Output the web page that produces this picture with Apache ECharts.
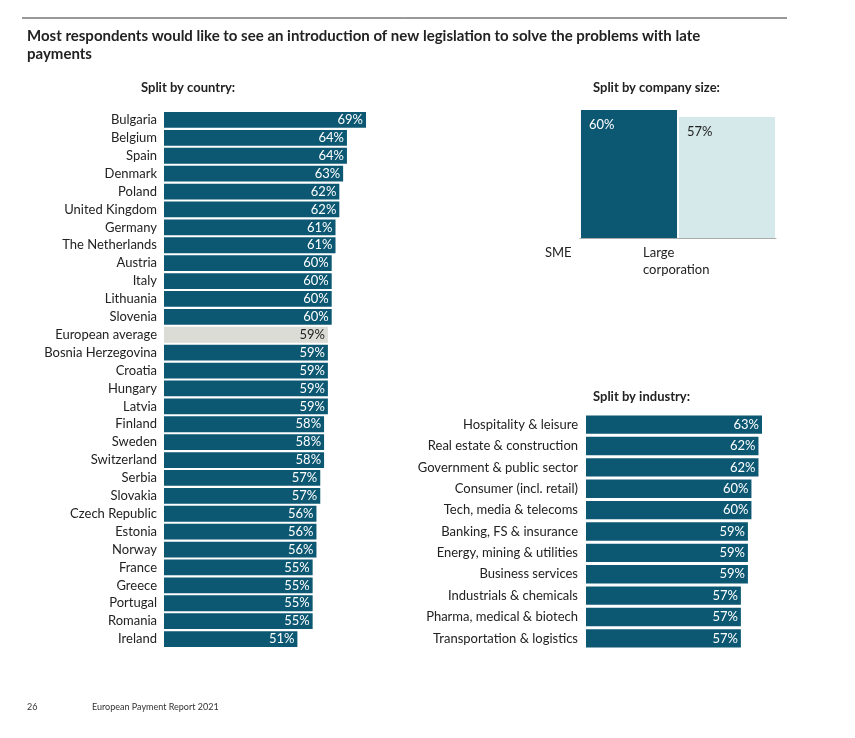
<!DOCTYPE html>
<html><head><meta charset="utf-8">
<script src="https://cdn.jsdelivr.net/npm/echarts@6/dist/echarts.min.js"></script>
<style>body{margin:0;background:#fff}#c{width:855px;height:738px}</style>
</head><body><div id="c"></div>
<script>
var countries = ["Bulgaria","Belgium","Spain","Denmark","Poland","United Kingdom","Germany","The Netherlands","Austria","Italy","Lithuania","Slovenia","European average","Bosnia Herzegovina","Croatia","Hungary","Latvia","Finland","Sweden","Switzerland","Serbia","Slovakia","Czech Republic","Estonia","Norway","France","Greece","Portugal","Romania","Ireland"];
var countryValues = [69,64,64,63,62,62,61,61,60,60,60,60,59,59,59,59,59,58,58,58,57,57,56,56,56,55,55,55,55,51];
var sizes = ["SME","Large\ncorporation"];
var sizeValues = [60,57];
var industries = ["Hospitality & leisure","Real estate & construction","Government & public sector","Consumer (incl. retail)","Tech, media & telecoms","Banking, FS & insurance","Energy, mining & utilities","Business services","Industrials & chemicals","Pharma, medical & biotech","Transportation & logistics"];
var industryValues = [63,62,62,60,60,59,59,59,57,57,57];

var dark = '#0c5873';
var font = 'Lato';
var chart = echarts.init(document.getElementById('c'));

function hbarLabel(){
  return {show:true, position:'insideRight', distance:3, color:'#fff', fontSize:13, fontFamily:font, formatter:'{c}%'};
}

chart.setOption({
  animation:false,
  textStyle:{fontFamily:font},
  title:[
    {text:'Most respondents would like to see an introduction of new legislation to solve the problems with late\npayments', left:22, top:22, textStyle:{fontSize:15, fontWeight:'bold', color:'#222', lineHeight:18}},
    {text:'Split by country:', left:136, top:76, textStyle:{fontSize:13, fontWeight:'bold', color:'#222'}},
    {text:'Split by company size:', left:588, top:76, textStyle:{fontSize:13, fontWeight:'bold', color:'#222'}},
    {text:'Split by industry:', left:588, top:385, textStyle:{fontSize:13, fontWeight:'bold', color:'#222'}},
    {text:'26', left:22, top:698, textStyle:{fontSize:9, fontWeight:'normal', color:'#333'}},
    {text:'European Payment Report 2021', left:87, top:698, textStyle:{fontSize:9, fontWeight:'normal', color:'#333'}}
  ],
  graphic:[{type:'line', shape:{x1:22,y1:18,x2:787,y2:18}, style:{stroke:'#333', lineWidth:1}}],
  grid:[
    {left:164, top:111, width:202, height:537},
    {left:580, top:110, width:196, height:128},
    {left:586, top:414, width:176, height:235}
  ],
  xAxis:[
    {gridIndex:0, type:'value', min:16, max:69, show:false},
    {gridIndex:1, type:'category', data:sizes, axisTick:{show:false}, axisLine:{lineStyle:{color:'#aaa'}},
     axisLabel:{align:'left', margin:6, color:'#222', fontSize:13, lineHeight:17, verticalAlign:'top',
       formatter:function(v){return v;}, padding:[0,0,0,-84]}},
    {gridIndex:2, type:'value', min:13, max:63, show:false}
  ],
  yAxis:[
    {gridIndex:0, type:'category', data:countries, inverse:true, axisLine:{show:false}, axisTick:{show:false},
     axisLabel:{color:'#222', fontSize:13, margin:7}},
    {gridIndex:1, type:'value', min:5, max:60, show:false},
    {gridIndex:2, type:'category', data:industries, inverse:true, axisLine:{show:false}, axisTick:{show:false},
     axisLabel:{color:'#222', fontSize:13, margin:8}}
  ],
  series:[
    {type:'bar', xAxisIndex:0, yAxisIndex:0, barCategoryGap:'12%',
     data:countryValues.map(function(v,i){
       return countries[i]==='European average'
         ? {value:v, itemStyle:{color:'#dcdcd6'}, label:{color:'#222'}}
         : {value:v};
     }),
     itemStyle:{color:dark}, label:hbarLabel()},
    {type:'bar', xAxisIndex:1, yAxisIndex:1, barCategoryGap:'2%',
     data:[{value:sizeValues[0], itemStyle:{color:dark}, label:{color:'#fff'}},
           {value:sizeValues[1], itemStyle:{color:'#d5e8ea'}, label:{color:'#222'}}],
     label:{show:true, position:'insideTopLeft', distance:8, fontSize:13, formatter:'{c}%'}},
    {type:'bar', xAxisIndex:2, yAxisIndex:2, barCategoryGap:'14%',
     data:industryValues, itemStyle:{color:dark}, label:hbarLabel()}
  ]
});
</script></body></html>
